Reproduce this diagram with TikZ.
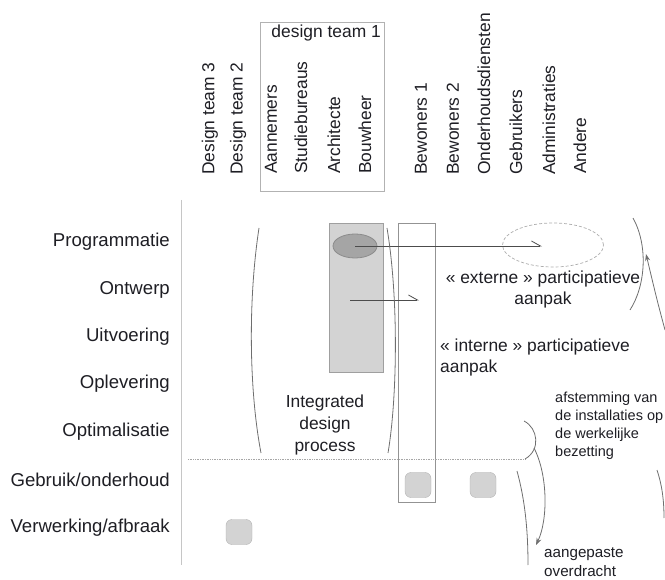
\documentclass[tikz,border=0pt]{standalone}
\usepackage{fontspec}
\setmainfont{Liberation Sans}
\usetikzlibrary{arrows.meta,shapes.geometric}
\definecolor{linegray}{RGB}{110,110,110}
\definecolor{boxgray}{RGB}{211,211,211}
\definecolor{darkfill}{RGB}{165,165,165}
\definecolor{txt}{RGB}{30,30,36}

\begin{document}
\begin{tikzpicture}[x=1pt,y=-1pt,
        phase/.style={anchor=east,text=txt,font=\fontsize{18.6}{20}\selectfont,inner sep=0pt},
        actor/.style={rotate=90,anchor=west,text=txt,font=\fontsize{17.4}{19}\selectfont,inner sep=0pt},
        note/.style={text=txt,font=\fontsize{17.4}{21}\selectfont,inner sep=0pt,align=center},
        small/.style={text=txt,font=\fontsize{14.5}{18}\selectfont,inner sep=0pt,align=left},
        token/.style={draw=gray!60,fill=boxgray,rounded corners=6pt,minimum width=26pt,minimum height=25pt,inner sep=0pt},
        bracket/.style={draw=linegray,line width=0.8pt},
        harpoon/.style={draw=black!70,line width=0.8pt,-{Straight Barb[left,length=9pt,width=10pt]}}]

    \useasboundingbox (0,0) rectangle (665,580);

    % Phases of the building life cycle
    \node[phase] (prog) at (170,242) {Programmatie};
    \node[phase] (ontw) at (170,290) {Ontwerp};
    \node[phase] (uitv) at (170,337) {Uitvoering};
    \node[phase] (oplev) at (170,384) {Oplevering};
    \node[phase] (optim) at (170,432) {Optimalisatie};
    \node[phase] (gebr) at (170,480) {Gebruik/onderhoud};
    \node[phase] (verw) at (170,528) {Verwerking/afbraak};
    \draw[gray!45,line width=0.8pt] (181,200) -- (181,565);

    % Actors, written upwards
    \node[draw=gray!60,line width=0.8pt,minimum width=124pt,minimum height=169pt,inner sep=0pt] (team1) at (322,106.5) {};
    \node[text=txt,font=\fontsize{17.4}{19}\selectfont,inner sep=0pt,anchor=east] (team1lbl) at (381,33) {design team 1};
    \node[actor] (dt3) at (210,175) {Design team 3};
    \node[actor] (dt2) at (238,175) {Design team 2};
    \node[actor] (aann) at (271,174) {Aannemers};
    \node[actor] (stud) at (301,174) {Studiebureaus};
    \node[actor] (arch) at (334,174) {Architecte};
    \node[actor] (bouw) at (365,174) {Bouwheer};
    \node[actor] (bew1) at (421,175) {Bewoners 1};
    \node[actor] (bew2) at (453,175) {Bewoners 2};
    \node[actor] (ondh) at (484,175) {Onderhoudsdiensten};
    \node[actor] (gebk) at (516,175) {Gebruikers};
    \node[actor] (adm) at (549,175) {Administraties};
    \node[actor] (and) at (580,174) {Andere};

    % Columns and the programme ellipses
    \node[draw=gray!75,fill=boxgray,line width=0.8pt,minimum width=54pt,minimum height=149pt,inner sep=0pt] (archcol) at (356,297.5) {};
    \node[draw=gray!85,line width=0.8pt,minimum width=37pt,minimum height=279pt,inner sep=0pt] (bewcol) at (416.5,362.5) {};
    \node[ellipse,draw=gray!90,fill=darkfill,line width=0.8pt,minimum width=44pt,minimum height=24pt,inner sep=0pt] (progell) at (355,246) {};
    \node[ellipse,draw=gray!65,dash pattern=on 3pt off 2pt,line width=0.7pt,minimum width=101pt,minimum height=44pt,inner sep=0pt] (extell) at (553,245) {};

    % Participation arrows
    \coordinate (extend) at (542,246);
    \coordinate (intstart) at (350,300);
    \coordinate (intend) at (419,300);
    \draw[harpoon] (progell.center) -- (extend);
    \draw[harpoon] (intstart) -- (intend);

    % Texts
    \node[note] (extlbl) at (543,290) {« externe » participatieve\\aanpak};
    \node[note,align=left,anchor=west] (intlbl) at (440,357.5) {« interne » participatieve\\aanpak};
    \node[note,font=\fontsize{17.4}{22}\selectfont] (idp) at (325,425) {Integrated\\design\\process};
    \node[small,anchor=west] (afst) at (555,426) {afstemming van\\de installaties op\\de werkelijke\\bezetting};
    \node[small,anchor=west,font=\fontsize{15.2}{19}\selectfont] (overdr) at (544,562.5) {aangepaste\\overdracht};

    % Brackets
    \draw[bracket] (259,228) .. controls (248,300) and (249,390) .. (261,453);
    \draw[bracket] (387,228) .. controls (399,300) and (397,400) .. (388,453);
    \draw[gray!70,densely dotted,line width=0.7pt] (188,459) -- (525,459);
    \draw[bracket] (524,421) .. controls (538,428) and (541,450) .. (525,459);
    \draw[bracket] (517,471) .. controls (525,500) and (528,530) .. (528,565);
    \draw[bracket] (633,218) .. controls (648,245) and (646,285) .. (630,310);
    \draw[bracket] (657,470) .. controls (662,485) and (664,500) .. (664,518);

    % Feedback arrows
    \coordinate (fbstart) at (534,448);
    \coordinate (fbend) at (536,545);
    \coordinate (upstart) at (665,330);
    \coordinate (upend) at (646,254);
    \draw[bracket,-{Stealth[length=7pt,width=5pt]}] (fbstart) .. controls (548,475) and (548,520) .. (fbend);
    \draw[bracket,-{Stealth[length=7pt,width=5pt]}] (upstart) .. controls (657,300) .. (upend);

    % Occupied cells
    \node[token] (tok1) at (418,485) {};
    \node[token] (tok2) at (483,485) {};
    \node[token] (tok3) at (239,532) {};

\end{tikzpicture}
\end{document}
